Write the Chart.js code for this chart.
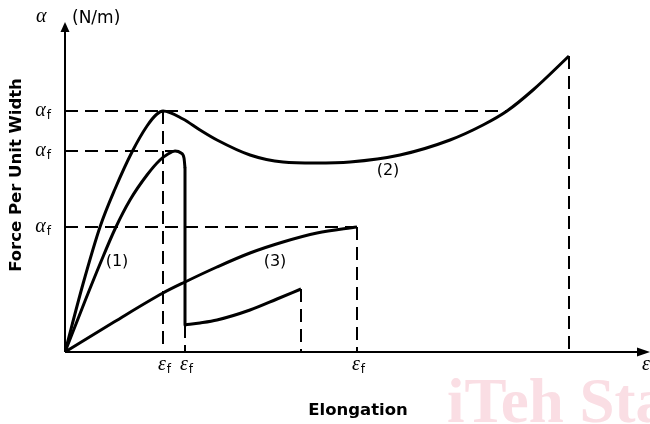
<!DOCTYPE html>
<html>
<head>
<meta charset="utf-8">
<script src="https://cdn.jsdelivr.net/npm/chart.js@4"></script>
<style>
  body { margin: 0; background: #fff; }
  canvas { display: block; }
</style>
</head>
<body>
<canvas id="grafico" width="650" height="424"></canvas>
<script>
// curve (2): peak, dip, then rises again up to break
const curve2Elong = [0, 18, 35, 50, 67, 82, 92, 98, 118, 135, 152, 185, 218, 250, 285, 335, 385, 418, 442, 468, 504];
const curve2Force = [0, 68, 125, 163, 200, 226, 238, 241, 233, 222, 212, 197, 190, 189, 190, 197, 212, 227, 241, 262, 296];

// curve (1): rise to peak then sudden drop, then a second short part
const curve1Elong = [0, 20, 35, 50, 65, 82, 95, 103, 110, 116, 119, 120];
const curve1Force = [0, 51, 88, 123, 152, 177, 192, 198, 201, 199, 194, 184];
const dropElong = [120, 120];
const dropForce = [184, 27];
const tailElong = [120, 135, 152, 185, 212, 236];
const tailForce = [27, 29, 32, 42, 53, 63];

// curve (3)
const curve3Elong = [0, 49, 98, 120, 152, 185, 218, 252, 292];
const curve3Force = [0, 30, 59, 70, 85, 99, 110, 119, 125];

// dashed guides: alpha_f levels and epsilon_f marks
const alphaLevels = [241, 201, 125];
const alphaReach = [442, 110, 292];
const epsMarks = [98, 120, 236, 292, 504];
const epsReach = [241, 27, 63, 125, 296];
const epsTicks = [98, 120, 292];

const curveLabels = ['(1)', '(2)', '(3)'];
const curveLabelX = [52, 323, 210];
const curveLabelY = [90, 181, 90];

const toPoints = (xs, ys) => xs.map((x, i) => ({ x: x, y: ys[i] }));

const solid = (xs, ys, smooth) => ({
    data: toPoints(xs, ys),
    borderColor: '#000',
    borderWidth: 3,
    pointRadius: 0,
    showLine: true,
    tension: 0,
    cubicInterpolationMode: smooth ? 'monotone' : 'default',
    borderJoinStyle: 'round'
});

const dashed = (pts) => ({
    data: pts,
    borderColor: '#000',
    borderWidth: 2,
    borderDash: [13, 7],
    pointRadius: 0,
    showLine: true,
    tension: 0
});

const datasets = [];
alphaLevels.forEach((lvl, i) => datasets.push(dashed([{ x: 0, y: lvl }, { x: alphaReach[i], y: lvl }])));
epsMarks.forEach((m, i) => datasets.push(dashed([{ x: m, y: epsReach[i] }, { x: m, y: 0 }])));
datasets.push(solid(curve2Elong, curve2Force, true));
datasets.push(solid(curve1Elong, curve1Force, true));
datasets.push(solid(dropElong, dropForce, false));
datasets.push(solid(tailElong, tailForce, true));
datasets.push(solid(curve3Elong, curve3Force, true));

const greek = 'italic 20px "Liberation Serif"';

const sub = (ctx, main, s, x, y, align) => {
    ctx.font = greek;
    const w1 = ctx.measureText(main).width;
    ctx.font = '12px "DejaVu Sans"';
    const w2 = ctx.measureText(s).width;
    let start = x;
    if (align === 'right') start = x - w1 - w2;
    if (align === 'center') start = x - (w1 + w2) / 2;
    ctx.textAlign = 'left';
    ctx.font = greek;
    ctx.fillText(main, start, y);
    ctx.font = '12px "DejaVu Sans"';
    ctx.fillText(s, start + w1 + 1, y + 3);
};

const decor = {
    id: 'decor',
    beforeDraw(chart) {
        const ctx = chart.ctx;
        ctx.save();
        ctx.fillStyle = '#fff';
        ctx.fillRect(0, 0, chart.width, chart.height);
        // watermark
        ctx.fillStyle = 'rgb(250,222,228)';
        ctx.font = 'bold 63px "Liberation Serif"';
        ctx.textBaseline = 'alphabetic';
        ctx.fillText('iTeh Sta', 447, 422);
        ctx.restore();
    },
    afterDraw(chart) {
        const ctx = chart.ctx;
        const xs = chart.scales.x;
        const ys = chart.scales.y;
        const area = chart.chartArea;
        const ox = xs.getPixelForValue(0);
        const oy = ys.getPixelForValue(0);
        ctx.save();
        ctx.fillStyle = '#000';
        ctx.strokeStyle = '#000';
        // axis lines and arrows
        ctx.lineWidth = 2;
        ctx.beginPath();
        ctx.moveTo(ox, oy);
        ctx.lineTo(ox, area.top + 4);
        ctx.moveTo(ox, oy);
        ctx.lineTo(area.right - 4, oy);
        ctx.stroke();
        ctx.beginPath();
        ctx.moveTo(ox, area.top);
        ctx.lineTo(ox - 4.5, area.top + 10);
        ctx.lineTo(ox + 4.5, area.top + 10);
        ctx.closePath();
        ctx.fill();
        ctx.beginPath();
        ctx.moveTo(area.right, oy);
        ctx.lineTo(area.right - 13, oy - 4.5);
        ctx.lineTo(area.right - 13, oy + 4.5);
        ctx.closePath();
        ctx.fill();

        ctx.textBaseline = 'alphabetic';
        // y tick labels
        alphaLevels.forEach((lvl) => sub(ctx, 'α', 'f', 50, ys.getPixelForValue(lvl) + 5, 'right'));
        // x tick labels
        epsTicks.forEach((m) => sub(ctx, 'ε', 'f', xs.getPixelForValue(m) + 1, 370, 'center'));

        // axis symbols
        ctx.font = greek;
        ctx.textAlign = 'left';
        ctx.fillText('α', 36, 22);
        ctx.fillText('ε', 642, 370);
        ctx.font = '17px "DejaVu Sans"';
        ctx.fillText('(N/m)', 72, 23);

        // curve numbers
        ctx.textAlign = 'center';
        ctx.textBaseline = 'middle';
        ctx.font = '16px "DejaVu Sans"';
        curveLabels.forEach((t, i) => {
            ctx.fillText(t, xs.getPixelForValue(curveLabelX[i]), ys.getPixelForValue(curveLabelY[i]));
        });

        // axis titles
        ctx.font = 'bold 16.5px "DejaVu Sans"';
        ctx.fillText('Elongation', 358, 411);
        ctx.translate(17, 175);
        ctx.rotate(-Math.PI / 2);
        ctx.fillText('Force Per Unit Width', 0, 0);
        ctx.restore();
    }
};

const canvas = document.getElementById('grafico');
const myChart = new Chart(canvas, {
    type: 'scatter',
    data: { datasets: datasets },
    options: {
        responsive: false,
        animation: false,
        layout: { padding: { left: 65, top: 22, right: 0, bottom: 72 } },
        plugins: { legend: { display: false }, tooltip: { enabled: false } },
        scales: {
            x: {
                type: 'linear', min: 0, max: 585,
                ticks: { display: false },
                grid: { display: false, drawTicks: false },
                border: { display: false }
            },
            y: {
                type: 'linear', min: 0, max: 330,
                ticks: { display: false },
                grid: { display: false, drawTicks: false },
                border: { display: false }
            }
        }
    },
    plugins: [decor]
});
</script>
</body>
</html>
